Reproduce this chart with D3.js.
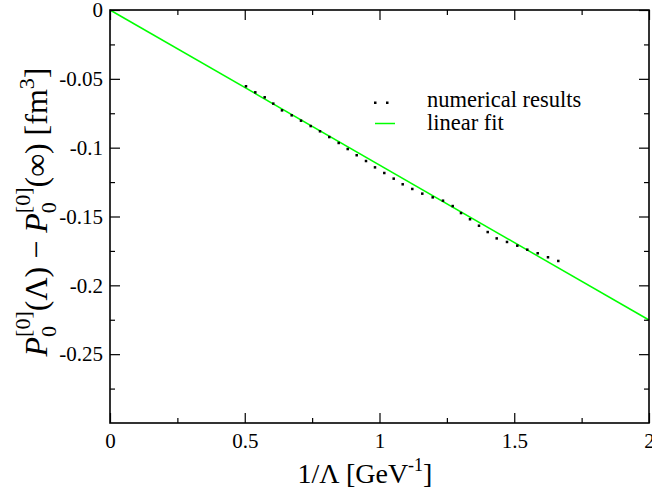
<!DOCTYPE html>
<html><head><meta charset="utf-8">
<script src="https://cdn.jsdelivr.net/npm/d3@7"></script>
<style>body{margin:0;background:#fff}svg{display:block}text{font-family:"Liberation Serif","Times New Roman",serif}</style>
</head><body><svg id="c" width="652" height="493"></svg>
<script>
const numX = [0.5046,0.5391,0.5740,0.6059,0.6382,0.6742,0.7087,0.7447,0.7792,0.8137,0.8486,0.8820,0.9154,0.9499,0.9833,1.0178,1.0527,1.0861,1.1217,1.1588,1.1974,1.2356,1.2716,1.3024,1.3358,1.3692,1.4015,1.4349,1.4731,1.5113,1.5484,1.5870,1.6252,1.6634];
const numY = [-0.0554,-0.0598,-0.0634,-0.0680,-0.0729,-0.0765,-0.0804,-0.0843,-0.0881,-0.0923,-0.0966,-0.1010,-0.1055,-0.1097,-0.1143,-0.1184,-0.1225,-0.1266,-0.1300,-0.1334,-0.1361,-0.1385,-0.1424,-0.1475,-0.1520,-0.1567,-0.1613,-0.1659,-0.1685,-0.1712,-0.1741,-0.1767,-0.1796,-0.1823];
const fitX = [0, 2];
const fitY = [0, -0.2252];
const xTicks = [0, 0.5, 1, 1.5, 2];
const xTickLabels = ["0", "0.5", "1", "1.5", "2"];
const yTicks = [0, -0.05, -0.1, -0.15, -0.2, -0.25];
const yTickLabels = ["0", "-0.05", "-0.1", "-0.15", "-0.2", "-0.25"];
const xMinor = [0.25, 0.75, 1.25, 1.75];
const yMinor = [-0.025, -0.075, -0.125, -0.175, -0.225, -0.275];
const legendLabels = ["numerical results", "linear fit"];

const svg = d3.select("#c");
const L = 110, R = 649, T = 10, B = 423;
const x = d3.scaleLinear().domain([0, 2]).range([L, R]);
const y = d3.scaleLinear().domain([-0.3, 0]).range([B, T]);
const GREEN = "#00ff00";

// fit line
const line = d3.line().x(d => x(d[0])).y(d => y(d[1]));
svg.append("path").datum(fitX.map((v, i) => [v, fitY[i]]))
  .attr("d", line).attr("fill", "none").attr("stroke", GREEN).attr("stroke-width", 1.5);

// dots
svg.append("g").selectAll("rect").data(numX.map((v, i) => [v, numY[i]])).join("rect")
  .attr("x", d => x(d[0]) - 1.25).attr("y", d => y(d[1]) - 1.25)
  .attr("width", 2.5).attr("height", 2.5).attr("fill", "#000");

// axes
const fmtX = (d) => xTickLabels[xTicks.indexOf(d)];
const fmtY = (d) => yTickLabels[yTicks.indexOf(d)];
function styleAxis(g) {
  g.select(".domain").remove();
  g.selectAll(".tick line").attr("stroke", "#000").attr("stroke-width", 1.2);
  g.selectAll("text").attr("font-size", 21).attr("fill", "#000").style("font-family", "Liberation Serif");
}
svg.append("g").attr("transform", `translate(0,${B})`)
  .call(d3.axisBottom(x).tickValues(xTicks).tickSize(-10).tickPadding(10).tickFormat(fmtX)).call(styleAxis);
svg.append("g").attr("transform", `translate(0,${B})`)
  .call(d3.axisBottom(x).tickValues(xMinor).tickSize(-5).tickFormat("")).call(styleAxis);
svg.append("g").attr("transform", `translate(0,${T})`)
  .call(d3.axisTop(x).tickValues(xTicks).tickSize(-10).tickFormat("")).call(styleAxis);
svg.append("g").attr("transform", `translate(0,${T})`)
  .call(d3.axisTop(x).tickValues(xMinor).tickSize(-5).tickFormat("")).call(styleAxis);
svg.append("g").attr("transform", `translate(${L},0)`)
  .call(d3.axisLeft(y).tickValues(yTicks).tickSize(-10).tickPadding(7).tickFormat(fmtY)).call(styleAxis);
svg.append("g").attr("transform", `translate(${L},0)`)
  .call(d3.axisLeft(y).tickValues(yMinor).tickSize(-5).tickFormat("")).call(styleAxis);
svg.append("g").attr("transform", `translate(${R},0)`)
  .call(d3.axisRight(y).tickValues(yTicks).tickSize(-10).tickFormat("")).call(styleAxis);
svg.append("g").attr("transform", `translate(${R},0)`)
  .call(d3.axisRight(y).tickValues(yMinor).tickSize(-5).tickFormat("")).call(styleAxis);

// frame
svg.append("rect").attr("x", L).attr("y", T).attr("width", R - L).attr("height", B - T)
  .attr("fill", "none").attr("stroke", "#000").attr("stroke-width", 1.6);

// legend
const lg = svg.append("g");
lg.selectAll("rect.ld").data([0, 1]).join("rect").attr("class", "ld")
  .attr("x", d => 374 + d * 12).attr("y", 101.5).attr("width", 2.5).attr("height", 2.5).attr("fill", "#000");
lg.append("line").attr("x1", 375).attr("x2", 395).attr("y1", 123.5).attr("y2", 123.5)
  .attr("stroke", GREEN).attr("stroke-width", 1.5);
lg.selectAll("text").data(legendLabels).join("text")
  .attr("x", 427).attr("y", (d, i) => 107 + i * 23).attr("font-size", 22.5).text(d => d);

// x title
const xt = svg.append("text").attr("x", 365).attr("y", 483).attr("text-anchor", "middle").attr("font-size", 28);
xt.append("tspan").text("1/Λ [GeV");
xt.append("tspan").attr("font-size", 18).attr("dy", -12).text("-1");
xt.append("tspan").attr("dy", 12).text("]");

// y title
const yt = svg.append("text").attr("transform", "translate(47,212) rotate(-90)").attr("text-anchor", "middle").attr("font-size", 32);
function pTerm(arg) {
  yt.append("tspan").attr("font-style", "italic").text("P");
  yt.append("tspan").attr("font-size", 22).attr("dy", 9).text("0");
  yt.append("tspan").attr("font-size", 22).attr("dx", -11).attr("dy", -26).text("[0]");
  yt.append("tspan").attr("dy", 17).text(arg);
}
pTerm("(Λ) − ");
pTerm("(∞) [fm");
yt.append("tspan").attr("font-size", 22).attr("dy", -13).text("3");
yt.append("tspan").attr("dy", 13).text("]");
</script></body></html>
